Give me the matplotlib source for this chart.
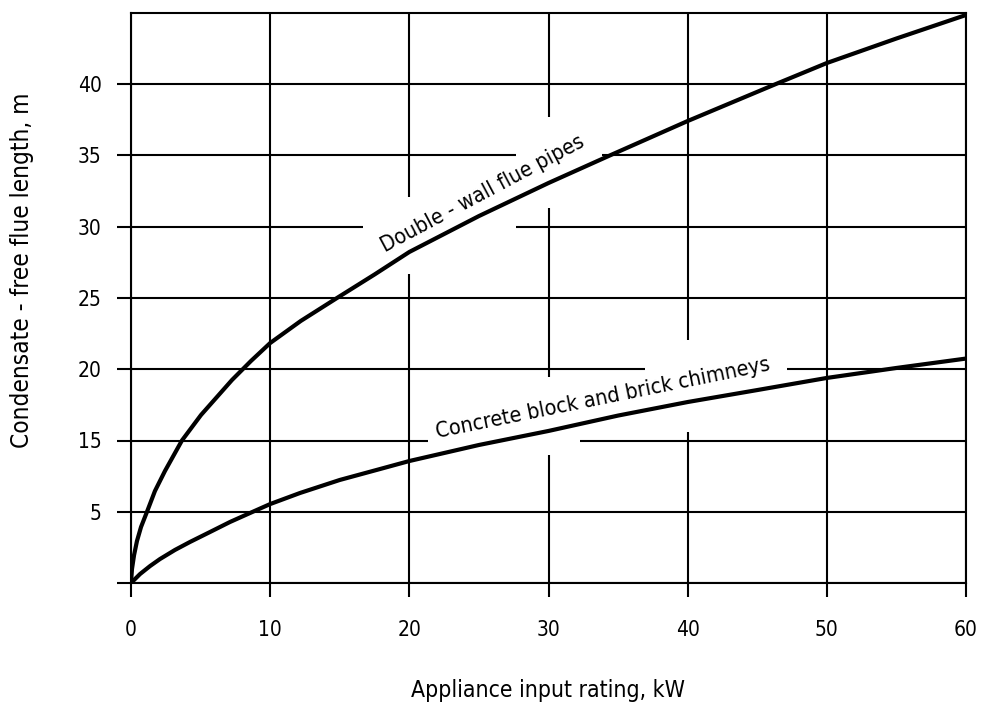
import numpy as np
import matplotlib
matplotlib.use("Agg")
import matplotlib.pyplot as plt
from matplotlib.patches import Rectangle

plt.rcParams['font.family'] = ['DejaVu Sans']
plt.rcParams['font.stretch'] = 'condensed'

# ---- data (y in label units) ----
double_x = [0, 0.07, 0.22, 0.43, 0.72, 1.15, 1.72, 2.44, 3.66, 5.03, 7.26, 8.62, 10, 12.2, 14.8, 17.5, 20, 25, 30, 34.4, 40, 46.3, 50, 55, 60]
double_y = [0, 0.98, 1.96, 2.95, 3.93, 5.0, 7.91, 10.72, 15.0, 16.79, 19.25, 20.58, 21.84, 23.39, 25.0, 26.65, 28.23, 30.75, 33.07, 35.0, 37.42, 40.0, 41.49, 43.21, 44.86]

concrete_x = [0, 0.65, 1.37, 2.08, 3.16, 4.24, 5.68, 7.11, 8.55, 10, 12.14, 15, 17.9, 20, 25, 30, 35, 40, 45, 50, 55, 60]
concrete_y = [0, 0.63, 1.19, 1.68, 2.32, 2.88, 3.58, 4.28, 4.91, 6.08, 7.63, 9.46, 11.0, 12.12, 14.37, 15.67, 16.75, 17.70, 18.54, 19.39, 20.09, 20.75]

x_ticks = [0, 10, 20, 30, 40, 50, 60]
y_ticks = [0, 5, 15, 20, 25, 30, 35, 40]
y_tick_labels = ['', '5', '15', '20', '25', '30', '35', '40']

label_double = "Double - wall flue pipes"
label_concrete = "Concrete block and brick chimneys"
x_label = "Appliance input rating, kW"
y_label = "Condensate - free flue length, m"


# piecewise scale: 0-5 one step, 5-15 one step, then 5 per step
def fwd(v):
    v = np.asarray(v, dtype=float)
    return np.where(v <= 5, v / 5.0, np.where(v <= 15, 1 + (v - 5) / 10.0, 2 + (v - 15) / 5.0))


def inv(s):
    s = np.asarray(s, dtype=float)
    return np.where(s <= 1, 5 * s, np.where(s <= 2, 5 + 10 * (s - 1), 15 + 5 * (s - 2)))


fig = plt.figure(figsize=(9.84, 7.03), dpi=100)
ax = fig.add_axes([131 / 984, 1 - 583 / 703, 835 / 984, 570 / 703])
ax.set_yscale('function', functions=(fwd, inv))
ax.set_xlim(0, 60)
ax.set_ylim(0, 45)

ax.set_xticks(x_ticks)
ax.set_xticklabels([str(t) for t in x_ticks])
ax.set_yticks(y_ticks)
ax.set_yticklabels(y_tick_labels)
ax.yaxis.set_minor_locator(matplotlib.ticker.NullLocator())
ax.xaxis.set_minor_locator(matplotlib.ticker.NullLocator())

ax.tick_params(axis='x', direction='out', length=10, width=1.5, pad=17, labelsize=15, colors='black')
ax.tick_params(axis='y', direction='out', length=10, width=1.5, pad=11, labelsize=15, colors='black')
for sp in ax.spines.values():
    sp.set_linewidth(1.5)
    sp.set_color('black')

ax.grid(True, color='black', linewidth=1.5)
ax.set_axisbelow(True)

# white masks cutting the grid around the curve labels
for (x0, x1, y0, y1) in [(0.2778, 0.4611, 0.5421, 0.6772),
                         (0.4611, 0.5641, 0.6579, 0.8175),
                         (0.3557, 0.5377, 0.2246, 0.3614),
                         (0.6156, 0.7856, 0.2649, 0.4263)]:
    ax.add_patch(Rectangle((x0, y0), x1 - x0, y1 - y0, transform=ax.transAxes,
                           facecolor='white', edgecolor='none', zorder=1.8))

ax.plot(double_x, double_y, color='black', linewidth=3.0, zorder=3,
        solid_capstyle='round', solid_joinstyle='round')
ax.plot(concrete_x, concrete_y, color='black', linewidth=3.0, zorder=3,
        solid_capstyle='round', solid_joinstyle='round')

ax.text(25.3, 32.3, label_double, rotation=28, ha='center', va='center',
        fontsize=15.5, zorder=4, rotation_mode='anchor')
ax.text(33.9, 18.0, label_concrete, rotation=11.5, ha='center', va='center',
        fontsize=15.5, zorder=4, rotation_mode='anchor')

fig.text(548 / 984, 1 - 690 / 703, x_label, ha='center', va='center', fontsize=16.5)
fig.text(22 / 984, 1 - 270 / 703, y_label, ha='center', va='center', rotation=90, fontsize=17.5)

fig.savefig("out.png", dpi=100, facecolor='white')
